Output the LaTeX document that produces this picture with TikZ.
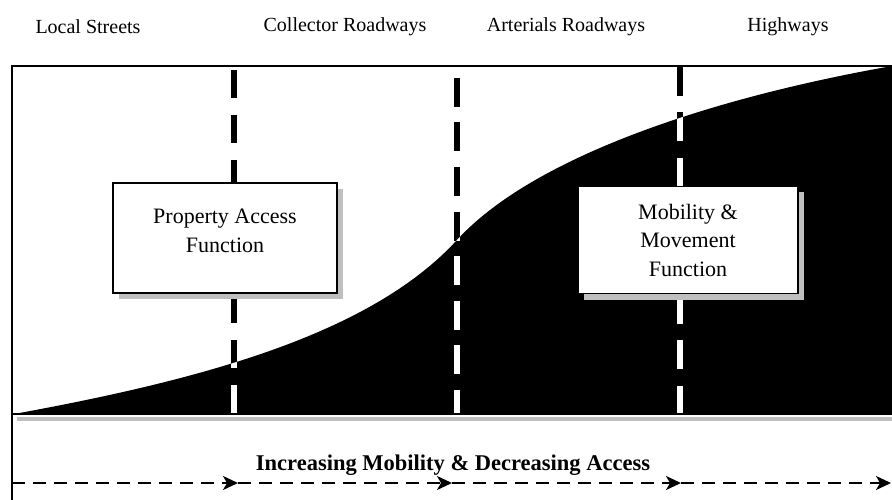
\documentclass[tikz,border=0pt]{standalone}
\usepackage{fontspec}
\setmainfont{Liberation Serif}
\usetikzlibrary{positioning, arrows.meta, shadows}

\tikzset{
  roadtype/.style={font=\fontsize{20}{24}\selectfont},
  funcbox/.style={draw, line width=1.5pt, fill=white, align=center, inner sep=0pt,
    font=\fontsize{22}{28.5}\selectfont,
    drop shadow={shadow xshift=6pt, shadow yshift=-6pt, fill=black!25, opacity=1}},
  roadline/.style={line width=6pt},
  flowline/.style={line width=1.6pt, dash pattern=on 13pt off 8pt,
    -{Stealth[length=15pt, width=14pt, inset=4pt]}},
}

\def\mobilitycurve{(14,414) .. controls (200,380) and (370,335) .. (457,240)
  .. controls (530,160) and (700,100) .. (892,66) -- (892,414) -- cycle}

\begin{document}
\begin{tikzpicture}[x=1pt, y=-1pt]
    \useasboundingbox (0,0) rectangle (892,500);

    % road classes
    \node[roadtype] (local) at (88,27) {Local Streets};
    \node[roadtype] (collector) at (345,27) {Collector Roadways};
    \node[roadtype] (arterial) at (566,27) {Arterials Roadways};
    \node[roadtype] (highway) at (788,27) {Highways};

    % share of mobility
    \fill \mobilitycurve;

    % class borders
    \coordinate (b1top) at (234,70);  \coordinate (b1bot) at (234,414);
    \coordinate (b2top) at (457,78);  \coordinate (b2bot) at (457,414);
    \coordinate (b3top) at (680,67);  \coordinate (b3bot) at (680,414);
    \draw[roadline, dash pattern=on 28pt off 17pt] (b1top) -- (b1bot);
    \draw[roadline, dash pattern=on 29pt off 15.5pt] (b2top) -- (b2bot);
    \draw[roadline, dash pattern=on 29pt off 16.5pt] (b3top) -- (b3bot);
    \begin{scope}
        \clip \mobilitycurve;
        \draw[roadline, white, dash pattern=on 28pt off 17pt] (b1top) -- (b1bot);
        \draw[roadline, white, dash pattern=on 29pt off 15.5pt] (b2top) -- (b2bot);
        \draw[roadline, white, dash pattern=on 29pt off 16.5pt] (b3top) -- (b3bot);
    \end{scope}

    % frame
    \draw[black!25, line width=4pt] (17,419) -- (892,419);
    \draw[line width=1.5pt] (892,414) -- (12,414);
    \draw[line width=2pt] (892,66) -- (12,66) -- (12,500);

    \node[funcbox, minimum width=224pt, minimum height=110pt] (access) at (225,238)
        {Property Access\\Function\\[-14pt]\mbox{}};
    \node[funcbox, minimum width=220pt, minimum height=107pt] (mobility) at (688,240)
        {Mobility \&\\Movement\\Function};

    % trend
    \node[font=\bfseries\fontsize{22.5}{26}\selectfont] (trend) at (453,465)
        {Increasing Mobility \& Decreasing Access};
    \coordinate (f0) at (12,483);
    \coordinate (f1) at (238,483);
    \coordinate (f2) at (452,483);
    \coordinate (f3) at (681,483);
    \coordinate (f4) at (891,483);
    \draw[flowline] (f0) -- (f1);
    \draw[flowline] (f1) -- (f2);
    \draw[flowline] (f2) -- (f3);
    \draw[flowline] (f3) -- (f4);
\end{tikzpicture}
\end{document}
